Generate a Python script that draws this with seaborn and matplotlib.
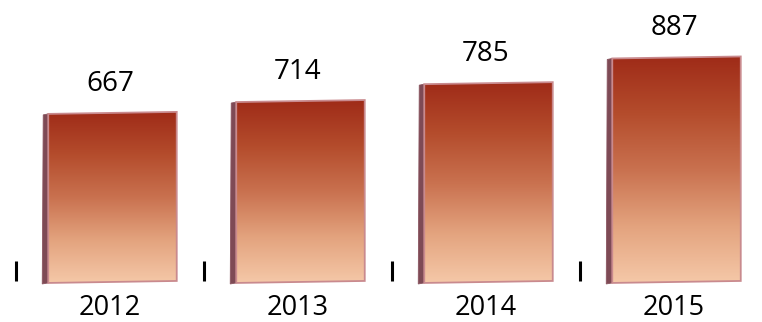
import numpy as np
import pandas as pd
import seaborn as sns
import matplotlib
matplotlib.use("Agg")
import matplotlib.pyplot as plt
from matplotlib.patches import Polygon
from matplotlib.colors import LinearSegmentedColormap

years = ["2012", "2013", "2014", "2015"]
values = [667, 714, 785, 887]

sns.set_style("white")
plt.rcParams["font.family"] = ["Open Sans", "DejaVu Sans"]

fig = plt.figure(figsize=(7.62, 3.22), dpi=100)
ax = fig.add_axes([0, 0, 1, 1])
df = pd.DataFrame({"year": years, "value": values})
sns.barplot(data=df, x="year", y="value", width=0.71, color="#b5502f", ax=ax)

# pixel sizes in data units
px_x = 1 / 188
px_y = 1 / 0.252

cmap = LinearSegmentedColormap.from_list(
    "copper", ["#f5c8a8", "#e3a37e", "#c9714f", "#b44c2c", "#9f2b18"])
grad = np.linspace(0, 1, 256).reshape(-1, 1)

for patch, v, yr in zip(ax.patches, values, years):
    x0 = patch.get_x()
    w = patch.get_width()
    h = patch.get_height()
    x1 = x0 + w
    sw = 5 * px_x
    patch.set_visible(False)
    front = Polygon([(x0 + sw, 0), (x1, 2 * px_y), (x1, h + 3 * px_y), (x0 + sw, h + px_y)],
                    closed=True, facecolor="none", edgecolor="#c98a8e", lw=1.3, zorder=3)
    ax.add_patch(front)
    im = ax.imshow(grad, cmap=cmap, extent=[x0 + sw, x1, 0, h + 3 * px_y],
                   origin="lower", aspect="auto", zorder=2)
    im.set_clip_path(front)
    side = Polygon([(x0 - px_x, -px_y), (x0 + sw, 0), (x0 + sw, h + px_y), (x0, h)],
                   closed=True, facecolor="#7e4a55", edgecolor="#8a5560", lw=0.6, zorder=2)
    ax.add_patch(side)
    ax.text(x0 + w / 2, h + 31 * px_y, str(v), ha="center", va="center",
            fontsize=20, color="black")
    ax.text(x0 + w / 2, -25 * px_y, yr, ha="center", va="center",
            fontsize=19.5, color="black")

# small separators between categories
bounds = np.arange(len(years)) - 0.5
ax.plot(bounds, [12 * px_y] * len(bounds), ls="none", marker="|", ms=14, mew=2.2, color="black")

ax.set_xlim(-0.585, 3.468)
ax.set_ylim(-155, 1123)
ax.axis("off")
fig.savefig("out.png", dpi=100)
